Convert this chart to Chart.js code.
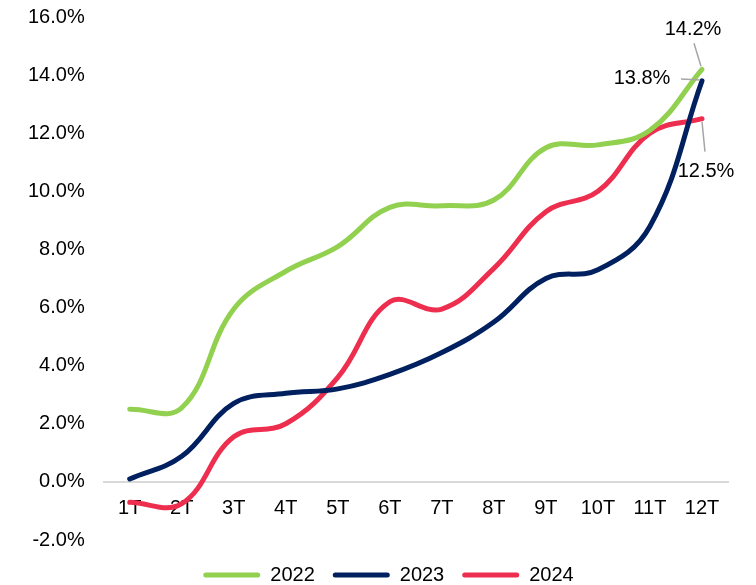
<!DOCTYPE html>
<html>
<head>
<meta charset="utf-8">
<script src="https://cdn.jsdelivr.net/npm/chart.js@4.4.1/dist/chart.umd.min.js"></script>
<style>
  html, body { margin: 0; padding: 0; background: #fff; overflow: hidden; }
  #wrap { width: 756px; height: 585px; position: relative; overflow: hidden; }
  #c { position: absolute; left: 0; top: -14px; }
</style>
</head>
<body>
<div id="wrap"><canvas id="c" width="756" height="599"></canvas></div>
<script>
const categories = ['1T','2T','3T','4T','5T','6T','7T','8T','9T','10T','11T','12T'];
const seriesNames = ['2022','2023','2024'];
const values2022 = [2.5, 2.55, 5.95, 7.25, 8.1, 9.45, 9.5, 9.7, 11.5, 11.6, 12.1, 14.2];
const values2023 = [0.1, 0.88, 2.7, 3.05, 3.2, 3.7, 4.45, 5.5, 7.0, 7.3, 8.8, 13.8];
const values2024 = [-0.7, -0.75, 1.55, 2.0, 3.6, 6.2, 5.95, 7.35, 9.3, 10.0, 12.0, 12.5];
const yTicks = [-2, 0, 2, 4, 6, 8, 10, 12, 14, 16];

const colors = ['#92D050', '#002060', '#EE2E4E'];
const FONT = 'Liberation Sans, Arial, sans-serif';

const endLabels = {
  id: 'endLabels',
  afterDatasetsDraw(chart) {
    const ctx = chart.ctx;
    const last = categories.length - 1;
    const p0 = chart.getDatasetMeta(0).data[last];
    const p1 = chart.getDatasetMeta(1).data[last];
    const p2 = chart.getDatasetMeta(2).data[last];
    ctx.save();
    ctx.strokeStyle = '#A6A6A6';
    ctx.lineWidth = 1.5;
    ctx.font = '20px ' + FONT;
    ctx.fillStyle = '#000';
    ctx.textBaseline = 'middle';
    ctx.textAlign = 'center';
    // 2022
    ctx.beginPath(); ctx.moveTo(p0.x - 8, p0.y - 26); ctx.lineTo(p0.x - 1, p0.y - 3); ctx.stroke();
    ctx.fillText(values2022[last].toFixed(1) + '%', p0.x - 9, p0.y - 40);
    // 2023
    ctx.beginPath(); ctx.moveTo(p1.x - 21, p1.y - 2); ctx.lineTo(p1.x - 2, p1.y - 1); ctx.stroke();
    ctx.fillText(values2023[last].toFixed(1) + '%', p1.x - 60, p1.y - 2);
    // 2024
    ctx.beginPath(); ctx.moveTo(p2.x + 0, p2.y + 3); ctx.lineTo(p2.x + 3, p2.y + 33); ctx.stroke();
    ctx.fillText(values2024[last].toFixed(1) + '%', p2.x + 4, p2.y + 53);
    ctx.restore();
  }
};

const legendShift = {
  id: 'legendShift',
  afterLayout(chart) {
    const lg = chart.legend;
    if (!lg) return;
    const dx = 20, dy = 7;
    lg.left += dx; lg.right += dx;
    lg.top += dy; lg.bottom += dy;
    if (lg.legendHitBoxes) lg.legendHitBoxes.forEach(h => { h.left += dx; h.top += dy; });
  }
};

const mk = (label, data, color) => ({
  label, data,
  borderColor: color, backgroundColor: color,
  borderWidth: 5, pointRadius: 0, pointHoverRadius: 0,
  tension: 0.4, borderCapStyle: 'round', borderJoinStyle: 'round', fill: false
});

new Chart(document.getElementById('c'), {
  type: 'line',
  data: {
    labels: categories,
    datasets: [
      mk(seriesNames[0], values2022, colors[0]),
      mk(seriesNames[1], values2023, colors[1]),
      mk(seriesNames[2], values2024, colors[2])
    ]
  },
  options: {
    responsive: false,
    animation: false,
    layout: { padding: { top: 6, right: 28, left: 9, bottom: -3 } },
    scales: {
      x: {
        position: { y: 0 },
        offset: true,
        grid: { display: false, drawTicks: false },
        border: { display: true, color: '#D9D9D9', width: 2 },
        ticks: { color: '#000', font: { family: FONT, size: 20 }, padding: 15, maxRotation: 0, autoSkip: false }
      },
      y: {
        min: -2, max: 16,
        afterBuildTicks: (s) => { s.ticks = yTicks.map(v => ({ value: v })); },
        grid: { display: false, drawTicks: false },
        border: { display: false },
        ticks: { color: '#000', font: { family: FONT, size: 20 }, padding: 19,
          callback: (v) => Number(v).toFixed(1) + '%' }
      }
    },
    plugins: {
      legend: {
        position: 'bottom',
        labels: {
          color: '#000', font: { family: FONT, size: 20 },
          boxWidth: 57, boxHeight: 5, padding: 18,
          useBorderRadius: true, borderRadius: 2.5,
          generateLabels: (chart) => chart.data.datasets.map((d, i) => ({
            text: d.label, fillStyle: d.borderColor, strokeStyle: d.borderColor,
            lineWidth: 0, datasetIndex: i, borderRadius: 2.5, fontColor: '#000'
          }))
        }
      },
      tooltip: { enabled: false }
    }
  },
  plugins: [endLabels, legendShift]
});
</script>
</body>
</html>
